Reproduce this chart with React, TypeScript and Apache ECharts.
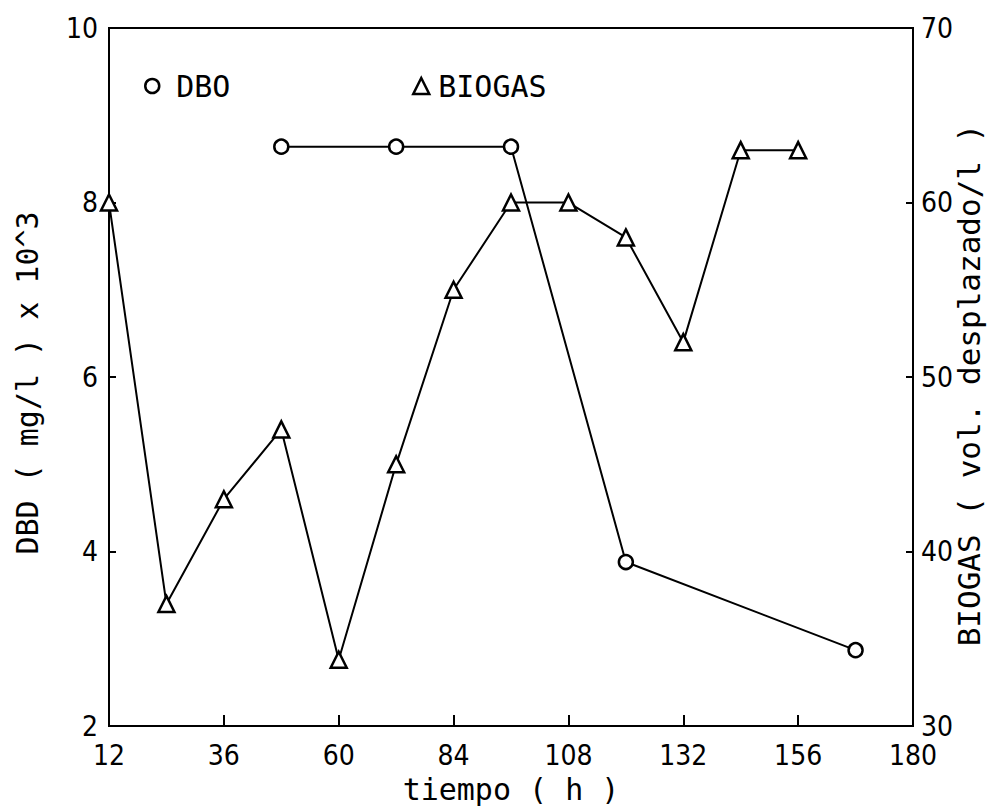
import React, { useEffect, useRef } from "react";
import * as echarts from "echarts";

// ---- data ----
const dboHours = [48, 72, 96, 120, 168];
const dboValues = [8.64, 8.64, 8.64, 3.88, 2.87];

const biogasHours = [12, 24, 36, 48, 60, 72, 84, 96, 108, 120, 132, 144, 156];
const biogasValues = [60, 37, 43, 47, 33.8, 45, 55, 60, 60, 58, 52, 63, 63];

const xRange = [12, 180];
const xStep = 24;
const leftRange = [2, 10];
const leftStep = 2;
const rightRange = [30, 70];
const rightStep = 10;

const seriesNames = ["DBO", "BIOGAS"];
const xTitle = "tiempo ( h )";
const leftTitle = "DBD ( mg/l ) x 10^3";
const rightTitle = "BIOGAS ( vol. desplazado/l )";

const TICK_FONT = "'Liberation Sans Narrow', 'DejaVu Sans Condensed', 'Open Sans', sans-serif";
const MONO_FONT = "'DejaVu Sans Mono', 'Liberation Mono', monospace";

export default function App() {
  const ref = useRef<HTMLDivElement>(null);

  useEffect(() => {
    if (!ref.current) return;
    const chart = echarts.init(ref.current, undefined, { renderer: "svg" });

    const dboData = dboHours.map((h, i) => [h, dboValues[i]]);
    const bioData = biogasHours.map((h, i) => [h, biogasValues[i]]);

    const tickLabel = {
      color: "#000",
      fontFamily: TICK_FONT,
      fontSize: 28,
    };

    chart.setOption({
      animation: false,
      backgroundColor: "#fff",
      grid: {
        left: 109,
        right: 83,
        top: 28,
        bottom: 77,
        show: true,
        borderColor: "#000",
        borderWidth: 2,
        backgroundColor: "transparent",
      },
      legend: [
        {
          data: [{ name: seriesNames[0], icon: "circle" }],
          left: 139,
          top: 66,
          itemWidth: 14,
          itemHeight: 14,
          itemStyle: { color: "#fff", borderColor: "#000", borderWidth: 2.5 },
          textStyle: { color: "#000", fontFamily: MONO_FONT, fontSize: 30, padding: [0, 0, 0, 12] },
          selectedMode: false,
        },
        {
          data: [{ name: seriesNames[1], icon: "triangle" }],
          left: 407,
          top: 66,
          itemWidth: 16,
          itemHeight: 16,
          itemStyle: { color: "#fff", borderColor: "#000", borderWidth: 2.5 },
          textStyle: { color: "#000", fontFamily: MONO_FONT, fontSize: 30, padding: [0, 0, 0, 4] },
          selectedMode: false,
        },
      ],
      xAxis: {
        type: "value",
        min: xRange[0],
        max: xRange[1],
        interval: xStep,
        name: xTitle,
        nameLocation: "middle",
        nameGap: 47,
        nameTextStyle: { color: "#000", fontFamily: MONO_FONT, fontSize: 30 },
        axisLine: { show: true, lineStyle: { color: "#000", width: 2 } },
        axisTick: { show: true, inside: true, length: 11, lineStyle: { color: "#000", width: 2 } },
        axisLabel: { ...tickLabel, margin: 15 },
        splitLine: { show: false },
      },
      yAxis: [
        {
          type: "value",
          min: leftRange[0],
          max: leftRange[1],
          interval: leftStep,
          position: "left",
          axisLine: { show: true, lineStyle: { color: "#000", width: 2 } },
          axisTick: { show: true, inside: true, length: 7, lineStyle: { color: "#000", width: 2 } },
          axisLabel: { ...tickLabel, margin: 11 },
          splitLine: { show: false },
        },
        {
          type: "value",
          min: rightRange[0],
          max: rightRange[1],
          interval: rightStep,
          position: "right",
          axisLine: { show: true, lineStyle: { color: "#000", width: 2 } },
          axisTick: { show: true, inside: true, length: 7, lineStyle: { color: "#000", width: 2 } },
          axisLabel: { ...tickLabel, margin: 8 },
          splitLine: { show: false },
        },
      ],
      graphic: [
        {
          type: "text",
          x: 27,
          y: 383,
          rotation: Math.PI / 2,
          style: {
            text: leftTitle,
            fill: "#000",
            font: "30px " + MONO_FONT,
            align: "center",
            verticalAlign: "middle",
          },
        },
        {
          type: "text",
          x: 969,
          y: 385,
          rotation: Math.PI / 2,
          style: {
            text: rightTitle,
            fill: "#000",
            font: "31px " + MONO_FONT,
            align: "center",
            verticalAlign: "middle",
          },
        },
      ],
      series: [
        {
          name: seriesNames[0],
          type: "line",
          yAxisIndex: 0,
          data: dboData,
          symbol: "circle",
          symbolSize: 14,
          lineStyle: { color: "#000", width: 2 },
          itemStyle: { color: "#fff", borderColor: "#000", borderWidth: 2.5 },
          z: 3,
        },
        {
          name: seriesNames[1],
          type: "line",
          yAxisIndex: 1,
          data: bioData,
          symbol: "triangle",
          symbolSize: [16, 16],
          lineStyle: { color: "#000", width: 2 },
          itemStyle: { color: "#fff", borderColor: "#000", borderWidth: 2.5 },
          z: 3,
        },
      ],
    });

    return () => chart.dispose();
  }, []);

  return (
    <div
      ref={ref}
      style={{ position: "fixed", left: 0, top: 0, width: 996, height: 809, background: "#fff" }}
    />
  );
}
